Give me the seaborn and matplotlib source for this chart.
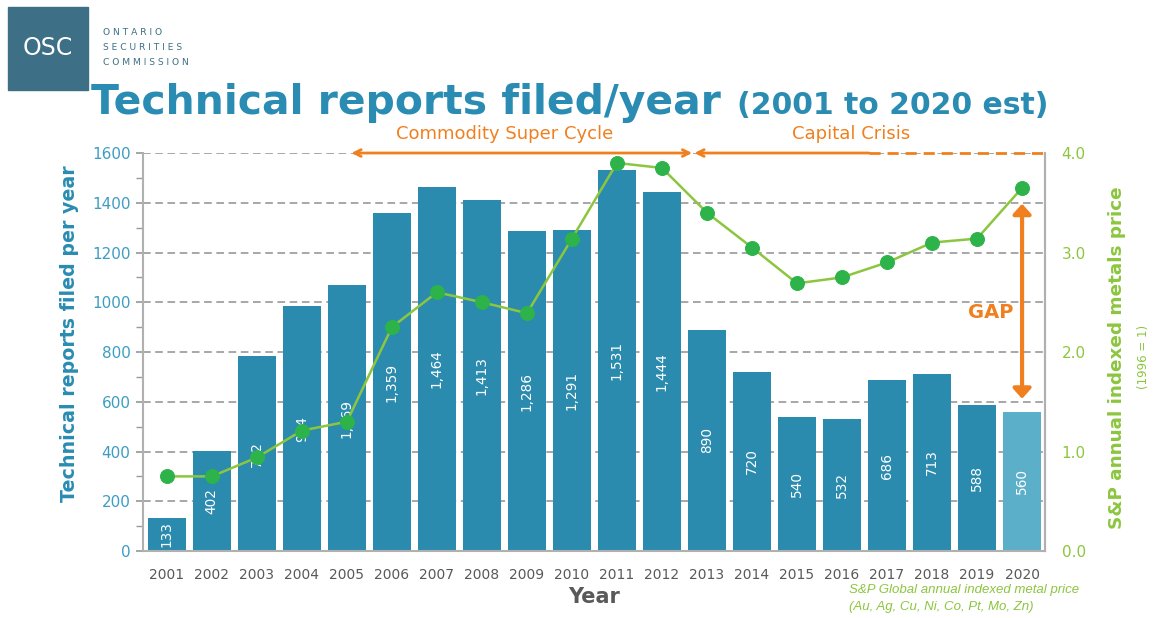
import numpy as np
import matplotlib
matplotlib.use("Agg")
import matplotlib.pyplot as plt
import seaborn as sns
from matplotlib.patches import Rectangle

# data
years = [str(y) for y in range(2001, 2021)]
reports = [133, 402, 782, 984, 1069, 1359, 1464, 1413, 1286, 1291,
           1531, 1444, 890, 720, 540, 532, 686, 713, 588, 560]
metal_index = [0.75, 0.75, 0.94, 1.21, 1.30, 2.25, 2.60, 2.50, 2.39, 3.14,
               3.90, 3.85, 3.40, 3.05, 2.69, 2.75, 2.90, 3.10, 3.14, 3.65]
left_ticks = [0, 200, 400, 600, 800, 1000, 1200, 1400, 1600]
right_ticks = [0.0, 1.0, 2.0, 3.0, 4.0]

BLUE = "#2a8bae"
LIGHT_BLUE = "#5cafc9"
TITLE_BLUE = "#2a8cb2"
TICK_BLUE = "#3d9dc3"
GREEN = "#8cc63f"
DOT_GREEN = "#2db34a"
ORANGE = "#f0801f"
GRAY = "#595959"

sns.set_theme(style="white")
plt.rcParams['font.family'] = ['DejaVu Sans']

fig = plt.figure(figsize=(11.56, 6.18), dpi=100)
ax = fig.add_axes([0.1237, 0.1084, 0.7803, 0.644])

colors = [BLUE] * (len(years) - 1) + [LIGHT_BLUE]
sns.barplot(x=years, y=reports, hue=years, palette=colors, legend=False,
            saturation=1, width=0.84, ax=ax, edgecolor="none")
ax.set_xlim(-0.53, 19.51)
ax.set_ylim(0, 1600)
ax.set_yticks(left_ticks)
ax.set_yticks(range(100, 1600, 200), minor=True)
ax.set_axisbelow(True)
ax.yaxis.grid(True, linestyle=(0, (5, 3)), color="#8f8f8f", lw=1.1)
for s in ["left", "bottom", "right"]:
    ax.spines[s].set_color("#b0b0b0")
    ax.spines[s].set_linewidth(1.5)
ax.spines["top"].set_visible(False)
ax.tick_params(axis="y", which="both", left=True, length=5, color="#9a9a9a",
               labelsize=11, labelcolor=TICK_BLUE, pad=4)
ax.tick_params(axis="x", bottom=False, labelsize=10, labelcolor=GRAY, pad=6)
ax.set_ylabel("Technical reports filed per year", fontsize=13.7, fontweight="bold",
              color=TITLE_BLUE)
ax.yaxis.set_label_coords(-0.071, 0.545)
ax.set_xlabel("Year", fontsize=15, fontweight="bold", color=GRAY, labelpad=4)

for cont in ax.containers:
    ax.bar_label(cont, labels=[f"{v:,.0f}" for v in cont.datavalues],
                 label_type="center", rotation=90, color="white", fontsize=9.8)

ax2 = ax.twinx()
sns.lineplot(x=np.arange(len(years)), y=metal_index, ax=ax2, color=GREEN, lw=1.8,
             marker="o", markersize=10, markerfacecolor=DOT_GREEN,
             markeredgecolor=DOT_GREEN)
ax2.set_xlim(-0.53, 19.51)
ax2.set_ylim(0, 4)
ax2.set_yticks(right_ticks)
ax2.set_yticklabels([f"{t:.1f}" for t in right_ticks])
ax2.tick_params(axis="y", right=False, labelsize=11, labelcolor=GREEN, pad=6)
for s in ["left", "bottom", "top"]:
    ax2.spines[s].set_visible(False)
ax2.spines["right"].set_color("#b0b0b0")
ax2.spines["right"].set_linewidth(1.5)
ax2.set_ylabel("")

fig.text(0.966, 0.421, "S&P annual indexed metals price", rotation=90,
         fontsize=13.2, fontweight="bold", color=GREEN, ha="center", va="center")
fig.text(0.989, 0.422, "(1996 = 1)", rotation=90, fontsize=8.5,
         color=GREEN, ha="center", va="center")

# period arrows along the top gridline
ax.annotate("", xy=(4.1, 1600), xytext=(11.67, 1600), annotation_clip=False,
            arrowprops=dict(arrowstyle="<->", color=ORANGE, lw=2,
                            shrinkA=0, shrinkB=0))
ax.annotate("", xy=(11.72, 1600), xytext=(15.6, 1600), annotation_clip=False,
            arrowprops=dict(arrowstyle="->", color=ORANGE, lw=2,
                            shrinkA=0, shrinkB=0))
ax.plot([15.6, 19.5], [1600, 1600], color=ORANGE, lw=2, ls=(0, (4, 2.5)),
        clip_on=False)
ax.text(7.5, 1640, "Commodity Super Cycle", color=ORANGE, fontsize=13,
        ha="center", va="bottom")
ax.text(15.2, 1640, "Capital Crisis", color=ORANGE, fontsize=13,
        ha="center", va="bottom")

# GAP arrow
ax2.annotate("", xy=(19, 3.49), xytext=(19, 1.53),
             arrowprops=dict(arrowstyle="<|-|>,head_width=0.45,head_length=0.5",
                             color=ORANGE, lw=3, shrinkA=0, shrinkB=0))
ax2.text(18.3, 2.4, "GAP", color=ORANGE, fontsize=14, fontweight="bold",
         ha="center", va="center")

# title and header
fig.text(0.079, 0.833, "Technical reports filed/year", fontsize=29.4,
         fontweight="bold", color=TITLE_BLUE, ha="left", va="center")
fig.text(0.6375, 0.829, "(2001 to 2020 est)", fontsize=21.5,
         fontweight="bold", color=TITLE_BLUE, ha="left", va="center")

fig.patches.append(Rectangle((0.007, 0.855), 0.069, 0.133, transform=fig.transFigure,
                             color="#3d6f86", zorder=0))
fig.text(0.0415, 0.922, "OSC", fontsize=17, color="white", ha="center", va="center")
for i, word in enumerate(["ONTARIO", "SECURITIES", "COMMISSION"]):
    fig.text(0.089, 0.947 - i * 0.024, " ".join(word), fontsize=6.6, color="#3d6f86",
             ha="left", va="center")

fig.text(0.734, 0.045, "S&P Global annual indexed metal price", fontsize=9.5,
         style="italic", color=GREEN, family=["Liberation Sans", "DejaVu Sans"],
         ha="left", va="center")
fig.text(0.734, 0.018, "(Au, Ag, Cu, Ni, Co, Pt, Mo, Zn)", fontsize=9.5,
         style="italic", color=GREEN, family=["Liberation Sans", "DejaVu Sans"],
         ha="left", va="center")

fig.savefig("out.png", dpi=100)
